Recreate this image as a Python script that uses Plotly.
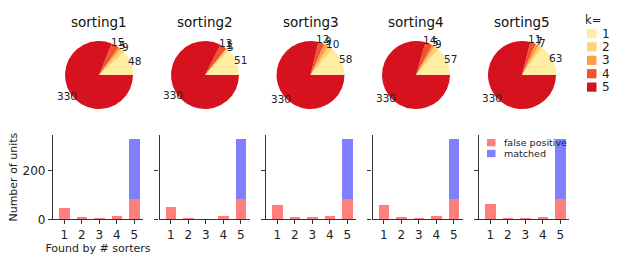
import math
import plotly.graph_objects as go

sorters = ["sorting1", "sorting2", "sorting3", "sorting4", "sorting5"]
k_labels = ["1", "2", "3", "4", "5"]
k_values = [1, 2, 3, 4, 5]

# units found by k sorters, per sorter
pie_counts = [
    [48, 9, 5, 15, 330],
    [51, 5, 1, 13, 330],
    [58, 10, 9, 12, 330],
    [57, 9, 5, 14, 330],
    [63, 7, 7, 11, 330],
]
false_positive = [
    [48, 9, 5, 15, 85],
    [51, 5, 1, 13, 85],
    [58, 10, 9, 12, 85],
    [57, 9, 5, 14, 85],
    [63, 7, 7, 8, 85],
]
matched = [
    [0, 0, 0, 0, 245],
    [0, 0, 0, 0, 245],
    [0, 0, 0, 0, 245],
    [0, 0, 0, 0, 245],
    [0, 0, 0, 3, 245],
]
bar_series = ["false positive", "matched"]
bar_colors = ["rgba(255,0,0,0.5)", "rgba(0,0,255,0.5)"]
k_colors = ["#ffeea2", "#fed46e", "#fd9f45", "#f3532b", "#d7121f"]

W, H = 617, 262
FONT = "DejaVu Sans"
TXT = "#222"


def px(x):
    return x / W


def py(y):
    return 1 - y / H


fig = go.Figure()

pie_cx = [99, 205, 310.5, 416, 522]
pie_cy = 75
pie_r = 34
bar_left = [53, 159.5, 266, 372.5, 479]
bar_w = 90
bar_top, bar_bottom = 135, 219.3

annotations = []
shapes = []

for i, name in enumerate(sorters):
    cx = pie_cx[i]
    vals = pie_counts[i]
    total = sum(vals)
    # first slice starts at 3 o'clock and runs counterclockwise (plotly angles: clockwise from 12)
    first_angle = 360.0 * vals[0] / total
    fig.add_trace(go.Pie(
        labels=k_labels, values=vals, sort=False,
        direction="counterclockwise", rotation=90 - first_angle,
        marker=dict(colors=k_colors, line=dict(width=0)),
        textinfo="none",
        domain=dict(x=[px(cx - pie_r), px(cx + pie_r)],
                    y=[py(pie_cy + pie_r), py(pie_cy - pie_r)]),
        showlegend=False,
        hoverinfo="label+value",
    ))
    # value labels at 1.1 radius, mid-angle of each slice
    cum = 0.0
    for v in vals:
        mid = math.radians(360.0 * (cum + v / 2.0) / total)
        cum += v
        lx = cx + 1.12 * pie_r * math.cos(mid)
        ly = pie_cy - 1.12 * pie_r * math.sin(mid)
        annotations.append(dict(
            text=str(v), x=px(lx), y=py(ly), xref="paper", yref="paper",
            showarrow=False, xanchor="center", yanchor="middle",
            font=dict(size=10.5, family=FONT, color=TXT)))
    annotations.append(dict(
        text=name, x=px(cx), y=py(22), xref="paper", yref="paper",
        showarrow=False, font=dict(size=13.5, family=FONT, color="#111"),
        xanchor="center", yanchor="middle"))

    ax = "" if i == 0 else str(i + 1)
    for sname, sdata, scol in zip(bar_series, [false_positive[i], matched[i]], bar_colors):
        fig.add_trace(go.Bar(
            x=k_values, y=sdata, width=0.6,
            marker=dict(color=scol, line=dict(width=0)),
            name=sname, showlegend=False,
            xaxis="x" + ax, yaxis="y" + ax))

    L = bar_left[i]
    fig.update_layout(**{
        "xaxis" + ax: dict(
            domain=[px(L), px(L + bar_w)], anchor="y" + ax,
            range=[0.35, 5.5], tickvals=k_values, ticktext=k_labels,
            ticks="outside", ticklen=4, tickcolor="#333", tickwidth=1,
            showline=True, linecolor="#333", linewidth=1.2,
            showgrid=False, zeroline=False, automargin=False,
            tickfont=dict(size=12, family=FONT, color=TXT),
            title=dict(text="Found by # sorters" if i == 0 else "",
                       font=dict(size=11, family=FONT, color=TXT), standoff=2),
            fixedrange=True,
        ),
        "yaxis" + ax: dict(
            domain=[py(bar_bottom), py(bar_top)], anchor="x" + ax,
            range=[0, 347], tickvals=[0, 200],
            showticklabels=(i == 0),
            ticks="outside", ticklen=4, tickcolor="#333", tickwidth=1,
            showline=True, linecolor="#333", linewidth=1.2,
            showgrid=False, zeroline=False, automargin=False,
            tickfont=dict(size=12, family=FONT, color=TXT),
            title=dict(text="Number of units" if i == 0 else "",
                       font=dict(size=11, family=FONT, color=TXT), standoff=2),
            fixedrange=True,
        ),
    })

# pie legend ("k=")
annotations.append(dict(
    text="k=", x=px(583), y=py(20.5), xref="paper", yref="paper",
    showarrow=False, xanchor="left", yanchor="middle",
    font=dict(size=11.5, family=FONT, color=TXT)))
for j, (lab, col) in enumerate(zip(k_labels, k_colors)):
    yc = 33.5 + 13.4 * j
    shapes.append(dict(type="rect", xref="paper", yref="paper",
                       x0=px(587), x1=px(596.5), y0=py(yc + 4.6), y1=py(yc - 4.6),
                       fillcolor=col, line=dict(width=0)))
    annotations.append(dict(
        text=lab, x=px(600), y=py(yc), xref="paper", yref="paper",
        showarrow=False, xanchor="left", yanchor="middle",
        font=dict(size=12, family=FONT, color=TXT)))

# bar legend
for j, (lab, col) in enumerate(zip(bar_series, bar_colors)):
    yc = 142.7 + 10.8 * j
    shapes.append(dict(type="rect", xref="paper", yref="paper",
                       x0=px(487), x1=px(495.5), y0=py(yc + 3.7), y1=py(yc - 3.7),
                       fillcolor=col, line=dict(width=0)))
    annotations.append(dict(
        text=lab, x=px(501.5), y=py(yc), xref="paper", yref="paper",
        showarrow=False, xanchor="left", yanchor="middle",
        font=dict(size=9.5, family=FONT, color=TXT)))

fig.update_layout(
    width=W, height=H,
    margin=dict(l=0, r=0, t=0, b=0, autoexpand=False),
    paper_bgcolor="white", plot_bgcolor="white",
    font=dict(family=FONT, size=11, color=TXT),
    barmode="stack",
    showlegend=False,
    annotations=annotations,
    shapes=shapes,
)
fig.write_html(
    "out.html",
    config={"displayModeBar": False},
    post_script="document.body.style.margin='0';document.body.style.padding='0';",
)
